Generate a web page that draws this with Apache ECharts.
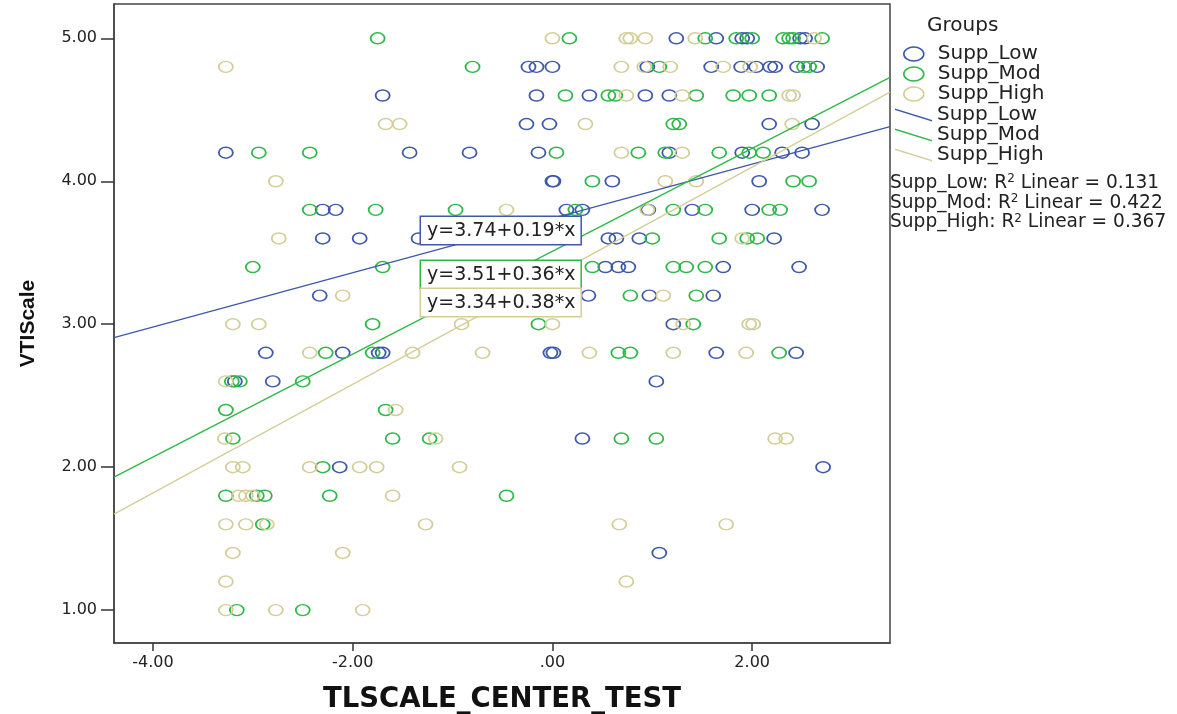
<!DOCTYPE html>
<html>
<head>
<meta charset="utf-8">
<script src="https://cdn.jsdelivr.net/npm/echarts@6/dist/echarts.min.js"></script>
<style>html,body{margin:0;padding:0;background:#fff}#c{width:1177px;height:714px}</style>
</head>
<body>
<div id="c"></div>
<script>
// ---- data ----
const groupNames = ['Supp_Low', 'Supp_Mod', 'Supp_High'];
const groupColors = ['#3E58AC', '#2EB848', '#D3CE97'];

const lowPts = [
  [1.24,5],[1.64,5],[1.90,5],[1.95,5],[2.48,5],[2.53,5],
  [-0.24,4.8],[-0.16,4.8],[0.00,4.8],[0.95,4.8],[1.59,4.8],[1.89,4.8],[2.04,4.8],[2.18,4.8],[2.23,4.8],[2.45,4.8],[2.65,4.8],
  [-1.70,4.6],[-0.16,4.6],[0.37,4.6],[0.93,4.6],[1.17,4.6],
  [-0.26,4.4],[-0.03,4.4],[2.17,4.4],[2.60,4.4],
  [-3.27,4.2],[-1.43,4.2],[-0.83,4.2],[-0.14,4.2],[1.17,4.2],[1.90,4.2],[2.30,4.2],[2.50,4.2],
  [0.00,4.0],[0.01,4.0],[0.60,4.0],[2.07,4.0],
  [-2.30,3.8],[-2.17,3.8],[0.14,3.8],[0.30,3.8],[0.96,3.8],[1.40,3.8],[2.00,3.8],[2.70,3.8],
  [-2.30,3.6],[-1.93,3.6],[-1.34,3.6],[0.56,3.6],[0.64,3.6],[0.87,3.6],[2.22,3.6],
  [0.53,3.4],[0.66,3.4],[0.76,3.4],[1.71,3.4],[2.47,3.4],
  [-2.33,3.2],[0.36,3.2],[0.97,3.2],[1.61,3.2],
  [1.21,3.0],
  [-2.87,2.8],[-2.10,2.8],[-1.74,2.8],[-1.70,2.8],[-0.02,2.8],[0.01,2.8],[1.64,2.8],[2.44,2.8],
  [-3.18,2.6],[-2.80,2.6],[1.04,2.6],
  [0.30,2.2],
  [-2.13,2.0],[2.71,2.0],
  [1.07,1.4]
];
const modPts = [
  [-1.75,5],[0.17,5],[1.53,5],[1.84,5],[2.00,5],[2.31,5],[2.37,5],[2.41,5],[2.70,5],
  [-0.80,4.8],[1.07,4.8],[2.52,4.8],[2.57,4.8],
  [0.13,4.6],[0.56,4.6],[0.63,4.6],[1.44,4.6],[1.81,4.6],[1.97,4.6],[2.17,4.6],
  [1.21,4.4],[1.27,4.4],
  [-2.94,4.2],[-2.43,4.2],[0.04,4.2],[0.86,4.2],[1.13,4.2],[1.67,4.2],[1.97,4.2],[2.11,4.2],
  [0.40,4.0],[2.41,4.0],[2.57,4.0],
  [-2.43,3.8],[-1.77,3.8],[-0.97,3.8],[0.23,3.8],[1.21,3.8],[1.53,3.8],[2.17,3.8],[2.28,3.8],
  [1.00,3.6],[1.67,3.6],[1.95,3.6],[2.05,3.6],
  [-3.00,3.4],[-1.70,3.4],[0.40,3.4],[1.21,3.4],[1.34,3.4],[1.53,3.4],
  [0.78,3.2],[1.44,3.2],
  [-1.80,3.0],[-0.14,3.0],[1.41,3.0],
  [-2.27,2.8],[-1.80,2.8],[0.66,2.8],[0.78,2.8],[2.27,2.8],
  [-3.21,2.6],[-3.13,2.6],[-2.50,2.6],
  [-3.27,2.4],[-1.67,2.4],
  [-3.20,2.2],[-1.60,2.2],[-1.23,2.2],[0.69,2.2],[1.04,2.2],
  [-2.30,2.0],
  [-3.27,1.8],[-2.96,1.8],[-2.88,1.8],[-2.23,1.8],[-0.46,1.8],
  [-2.90,1.6],
  [-3.16,1.0],[-2.50,1.0]
];
const highPts = [
  [0.00,5],[0.74,5],[0.78,5],[0.93,5],[1.43,5],[2.62,5],
  [-3.27,4.8],[0.69,4.8],[0.92,4.8],[1.18,4.8],[1.71,4.8],[1.98,4.8],
  [0.74,4.6],[1.30,4.6],[2.37,4.6],[2.41,4.6],
  [-1.67,4.4],[-1.53,4.4],[0.33,4.4],[2.40,4.4],
  [0.69,4.2],[1.30,4.2],
  [-2.77,4.0],[1.13,4.0],[1.44,4.0],
  [-0.46,3.8],[0.95,3.8],
  [-2.74,3.6],[1.90,3.6],
  [-2.10,3.2],[1.11,3.2],
  [-3.20,3.0],[-2.94,3.0],[-0.91,3.0],[0.00,3.0],[1.31,3.0],[1.97,3.0],[2.01,3.0],
  [-2.43,2.8],[-1.40,2.8],[-0.70,2.8],[0.37,2.8],[1.21,2.8],[1.94,2.8],
  [-3.27,2.6],
  [-1.57,2.4],
  [-3.28,2.2],[-1.17,2.2],[2.23,2.2],[2.34,2.2],
  [-3.20,2.0],[-3.10,2.0],[-2.43,2.0],[-1.93,2.0],[-1.76,2.0],[-0.93,2.0],
  [-3.14,1.8],[-3.07,1.8],[-3.00,1.8],[-1.60,1.8],
  [-3.27,1.6],[-3.07,1.6],[-2.86,1.6],[-1.27,1.6],[0.67,1.6],[1.74,1.6],
  [-3.20,1.4],[-2.10,1.4],
  [-3.27,1.2],[0.74,1.2],
  [-3.27,1.0],[-2.77,1.0],[-1.90,1.0]
];
// fit line end points (across the full x range)
const lowFit = [[-4.39,2.906],[3.38,4.382]];
const modFit = [[-4.39,1.930],[3.38,4.727]];
const highFit = [[-4.39,1.672],[3.38,4.624]];
const fitEquations = ['y=3.74+0.19*x', 'y=3.51+0.36*x', 'y=3.34+0.38*x'];
const r2Values = ['0.131', '0.422', '0.367'];
const xTicks = [-4, -2, 0, 2];
const yTicks = [1, 2, 3, 4, 5];
const xTitle = 'TLSCALE_CENTER_TEST';
const yTitle = 'VTIScale';
const legendTitle = 'Groups';

// ---- chart ----
const pts = [lowPts, modPts, highPts];
const fits = [lowFit, modFit, highFit];
const FONT = '"DejaVu Sans", sans-serif';

const series = [];
groupNames.forEach((g, i) => {
  series.push({
    name: g, type: 'scatter', data: pts[i], symbol: 'circle', symbolSize: [14, 11],
    itemStyle: { color: 'rgba(0,0,0,0)', borderColor: groupColors[i], borderWidth: 1.6, opacity: 1 },
    emphasis: { disabled: true }, z: 2
  });
});
groupNames.forEach((g, i) => {
  series.push({
    name: g + ' fit', type: 'line', data: fits[i], showSymbol: false, symbol: 'none',
    lineStyle: { color: groupColors[i], width: 1.3 }, itemStyle: { color: groupColors[i] },
    clip: true, silent: true, z: 3
  });
});

const graphic = [
  { type: 'text', left: 927, top: 16, style: { text: legendTitle, font: '20px ' + FONT, fill: '#222' } }
];
groupNames.forEach((g, i) => {
  graphic.push({
    type: 'text', x: 890, y: 183 + i * 19.8,
    style: {
      text: g + ': R{s|2} Linear = ' + r2Values[i], fontSize: 18.6, fontFamily: FONT, fill: '#222',
      verticalAlign: 'middle',
      rich: { s: { fontSize: 12, fontFamily: FONT, fill: '#222', verticalAlign: 'top', padding: [0, 0, 8, 0] } }
    }
  });
});
const boxTops = [217, 261, 289];
fitEquations.forEach((t, i) => {
  graphic.push({
    type: 'text', x: 421, y: boxTops[i], z: 100,
    style: {
      text: t, fontSize: 19, fontFamily: FONT, fill: '#222', lineHeight: 20,
      backgroundColor: '#fff', borderColor: groupColors[i], borderWidth: 1.5, padding: [4, 5, 3, 6]
    }
  });
});

const chart = echarts.init(document.getElementById('c'), null, { renderer: 'canvas' });
chart.setOption({
  animation: false,
  backgroundColor: '#fff',
  grid: { left: 114, top: 4, right: 287, bottom: 71, show: true, containLabel: false, outerBoundsMode: 'none',
    borderColor: '#444', borderWidth: 1.5, backgroundColor: 'transparent' },
  xAxis: {
    type: 'value', min: -4.39, max: 3.38,
    name: xTitle, nameLocation: 'middle', nameGap: 43,
    nameTextStyle: { fontFamily: FONT, fontWeight: 'bold', fontSize: 27.5, color: '#111' },
    axisLine: { show: true, onZero: false, lineStyle: { color: '#444', width: 1.5 } },
    axisTick: { show: true, customValues: xTicks, length: 8, lineStyle: { color: '#333', width: 1.5 } },
    axisLabel: { customValues: xTicks, margin: 12, fontFamily: FONT, fontSize: 16, color: '#222',
      formatter: v => (v === 0 ? '.00' : v.toFixed(2)) },
    splitLine: { show: false }
  },
  yAxis: {
    type: 'value', min: 0.77, max: 5.24,
    name: yTitle, nameLocation: 'middle', nameGap: 75, nameRotate: 90,
    nameTextStyle: { fontFamily: '"Liberation Sans", Arial, sans-serif', fontWeight: 'bold', fontSize: 21, color: '#111' },
    axisLine: { show: true, onZero: false, lineStyle: { color: '#444', width: 1.5 } },
    axisTick: { show: true, customValues: yTicks, length: 13, lineStyle: { color: '#333', width: 1.5 } },
    axisLabel: { customValues: yTicks, margin: 17, fontFamily: FONT, fontSize: 16, color: '#222',
      formatter: v => v.toFixed(2) },
    splitLine: { show: false }
  },
  legend: [
    {
      orient: 'vertical', left: 903, top: 44, padding: 0, itemWidth: 20, itemHeight: 14, itemGap: 0,
      symbolKeepAspect: false, selectedMode: false,
      textStyle: { fontFamily: FONT, fontSize: 20, color: '#222', lineHeight: 19.7, padding: [0, 0, 0, 9] },
      data: groupNames.map((g, i) => ({
        name: g, icon: 'path://M0,7A10,7 0 1,0 20,7A10,7 0 1,0 0,7Z',
        itemStyle: { color: 'rgba(0,0,0,0)', borderColor: groupColors[i], borderWidth: 1.6 }
      }))
    },
    {
      orient: 'vertical', left: 895, top: 105, padding: 0, itemWidth: 37, itemHeight: 13, itemGap: 0,
      symbolKeepAspect: false, selectedMode: false,
      textStyle: { fontFamily: FONT, fontSize: 20, color: '#222', lineHeight: 19.7 },
      formatter: n => n.replace(' fit', ''),
      data: groupNames.map((g, i) => ({
        name: g + ' fit', icon: 'path://M0,0L37,11.5L37,13L0,1.5Z',
        itemStyle: { color: groupColors[i], borderWidth: 0 }
      }))
    }
  ],
  graphic: graphic,
  series: series
});
</script>
</body>
</html>
